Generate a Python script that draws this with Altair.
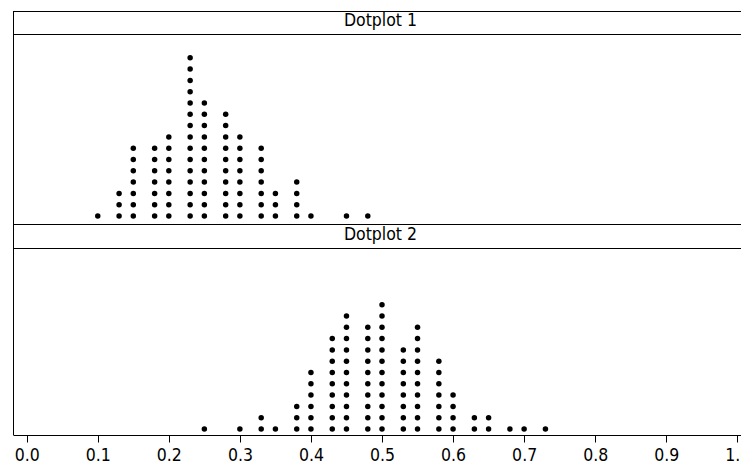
import altair as alt
import pandas as pd

# Dot values (x positions) and number of stacked dots at each value
top_values = [0.10, 0.13, 0.15, 0.18, 0.20, 0.23, 0.25, 0.28, 0.30,
              0.33, 0.35, 0.38, 0.40, 0.45, 0.48]
top_counts = [1, 3, 7, 7, 8, 15, 11, 10, 8, 7, 3, 4, 1, 1, 1]

bot_values = [0.25, 0.30, 0.33, 0.35, 0.38, 0.40, 0.43, 0.45, 0.48,
              0.50, 0.53, 0.55, 0.58, 0.60, 0.63, 0.65, 0.68, 0.70, 0.73]
bot_counts = [1, 1, 2, 1, 3, 6, 9, 11, 10, 12, 8, 10, 7, 4, 2, 2, 1, 1, 1]

panel_titles = ["Dotplot 1", "Dotplot 2"]
tick_values = [0.0, 0.1, 0.2, 0.3, 0.4, 0.5, 0.6, 0.7, 0.8, 0.9, 1.0]

# ---- layout (pixels / row units) ----
W = 728
H = 424
ROW = 11.3                    # vertical spacing between stacked dots (px)
X_DOMAIN = [-0.0193, 1.0052]
Y_DOMAIN = [0, H / ROW]       # row units, 0 at bottom of lower panel
BASE = {panel_titles[0]: 19.38, panel_titles[1]: 0.53}   # baseline row of each panel
FONT = "DejaVu Sans Condensed, DejaVu Sans"


def expand(values, counts, panel):
    rows = []
    for v, c in zip(values, counts):
        for k in range(c):
            rows.append({"x": v, "k": k, "panel": panel, "row": BASE[panel] + k})
    return rows


dots_df = pd.DataFrame(expand(top_values, top_counts, panel_titles[0])
                       + expand(bot_values, bot_counts, panel_titles[1]))

x_axis = alt.Axis(
    values=tick_values, format=".1f", grid=False, title=None,
    domainColor="black", tickColor="black", tickSize=7,
    labelFont=FONT, labelFontSize=17.5, labelColor="black",
    labelBaseline="alphabetic", labelPadding=18,
    labelFlush=False, labelOverlap=False,
)

dots = alt.Chart(dots_df).mark_circle(size=30, color="black", opacity=1).encode(
    x=alt.X("x:Q", scale=alt.Scale(domain=X_DOMAIN, nice=False, zero=False), axis=x_axis),
    y=alt.Y("row:Q", scale=alt.Scale(domain=Y_DOMAIN, nice=False, zero=False), axis=None),
)

# frame: top border and header-strip separator lines (pixel positions in plot area)
sep_df = pd.DataFrame({"py": [0.5, 23.5, 213.5, 237.5]})
seps = alt.Chart(sep_df).mark_rule(color="black", strokeWidth=1).encode(
    y=alt.Y("py:Q", scale=None), x=alt.value(0), x2=alt.value(W)
)
left_border = alt.Chart(pd.DataFrame({"px": [0.5]})).mark_rule(
    color="black", strokeWidth=1
).encode(x=alt.X("px:Q", scale=None), y=alt.value(0), y2=alt.value(H))

hdr_df = pd.DataFrame({"t": panel_titles, "py": [15, 229]})
headers = alt.Chart(hdr_df).mark_text(
    font=FONT, fontSize=17.5, color="black", baseline="alphabetic", align="center"
).encode(text="t:N", y=alt.Y("py:Q", scale=None), x=alt.value((749 - 13) / 2 - 0.5))

chart = alt.layer(dots, seps, left_border, headers).properties(
    width=W, height=H,
    padding={"left": 5, "top": 3, "right": 0, "bottom": 31},
    autosize=alt.AutoSizeParams(type="none"),
).configure_view(
    strokeWidth=0
).configure(background="white")

chart.save("out.html", embed_options={"renderer": "svg", "actions": False})
